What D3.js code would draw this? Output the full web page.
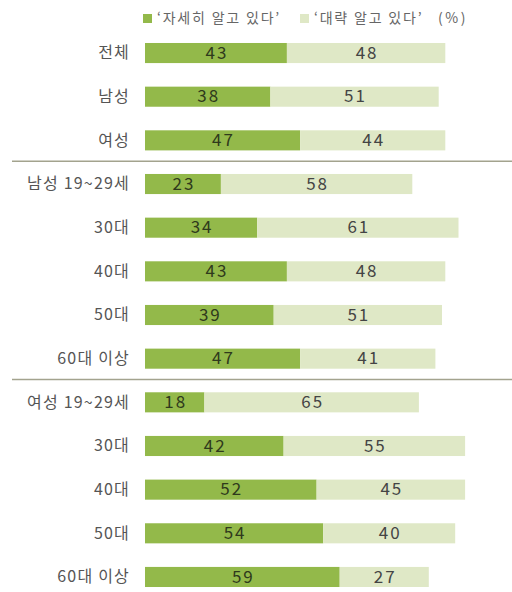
<!DOCTYPE html>
<html><head><meta charset="utf-8">
<script src="https://cdn.jsdelivr.net/npm/d3@7/dist/d3.min.js"></script>
<style>body{margin:0;background:#fff;}svg{display:block;}</style>
</head><body>
<svg id="c" width="512" height="592"></svg>
<script>
const categories = ['전체','남성','여성','남성 19~29세','30대','40대','50대','60대 이상','여성 19~29세','30대','40대','50대','60대 이상'];
const detailed = [43,38,47,23,34,43,39,47,18,42,52,54,59];
const rough = [48,51,44,58,61,48,51,41,65,55,45,40,27];
const seriesNames = ['‘자세히 알고 있다’','‘대략 알고 있다’'];
const unitLabel = '(%)';
const groupBreaks = [3,8];

const colors = ['#93b94a','#dfe8c6'];
const font = "'Noto Sans CJK KR','Noto Sans',sans-serif";
const svg = d3.select('#c');
const idx = d3.range(categories.length);
const x = d3.scaleLinear().domain([0,100]).range([145,475]);
const y = d3.scaleBand().domain(idx).range([31.2,598.8]).paddingInner(0.54).paddingOuter(0.27);

groupBreaks.forEach(b=>{
  const yy = (y(b-1)+y.bandwidth()+y(b))/2 - 1;
  svg.append('line').attr('x1',12).attr('x2',512).attr('y1',yy).attr('y2',yy)
    .attr('stroke','#a3a38e').attr('stroke-width',1.5);
});

const rows = svg.selectAll('g.row').data(idx).join('g').attr('class','row');
rows.append('rect').attr('x',x(0)).attr('y',i=>y(i)).attr('height',y.bandwidth())
  .attr('width',i=>x(detailed[i])-x(0)).attr('fill',colors[0]);
rows.append('rect').attr('x',i=>x(detailed[i])).attr('y',i=>y(i)).attr('height',y.bandwidth())
  .attr('width',i=>x(detailed[i]+rough[i])-x(detailed[i])).attr('fill',colors[1]);
rows.append('text').attr('x',i=>(x(0)+x(detailed[i]))/2+1).attr('y',i=>y(i)+y.bandwidth()/2+1)
  .attr('text-anchor','middle').attr('dominant-baseline','middle')
  .attr('font-family',font).attr('font-size',17).attr('letter-spacing',2).attr('fill','#2f3a1c')
  .text(i=>detailed[i]);
rows.append('text').attr('x',i=>(x(detailed[i])+x(detailed[i]+rough[i]))/2+1).attr('y',i=>y(i)+y.bandwidth()/2+1)
  .attr('text-anchor','middle').attr('dominant-baseline','middle')
  .attr('font-family',font).attr('font-size',17).attr('letter-spacing',2).attr('fill','#444')
  .text(i=>rough[i]);
rows.append('text').attr('x',130).attr('y',i=>y(i)+y.bandwidth()/2+1)
  .attr('text-anchor','end').attr('dominant-baseline','middle')
  .attr('font-family',font).attr('font-size',16).attr('letter-spacing',1.2).attr('fill','#555')
  .text(i=>categories[i]);

const lg = svg.append('g');
const lx = [143,300];
seriesNames.forEach((n,k)=>{
  lg.append('rect').attr('x',lx[k]).attr('y',14).attr('width',9).attr('height',9).attr('fill',colors[k]);
  const t = lg.append('text').attr('x',lx[k]+14).attr('y',19).attr('dominant-baseline','middle')
    .attr('font-family',font).attr('font-size',14).attr('letter-spacing',1.8).attr('fill','#666').text(n);
  if(k===1){
    lg.append('text').attr('x',438).attr('y',19).attr('dominant-baseline','middle')
      .attr('font-family',font).attr('font-size',14).attr('letter-spacing',2.5).attr('fill','#666').text(unitLabel);
  }
});
</script>
</body></html>
